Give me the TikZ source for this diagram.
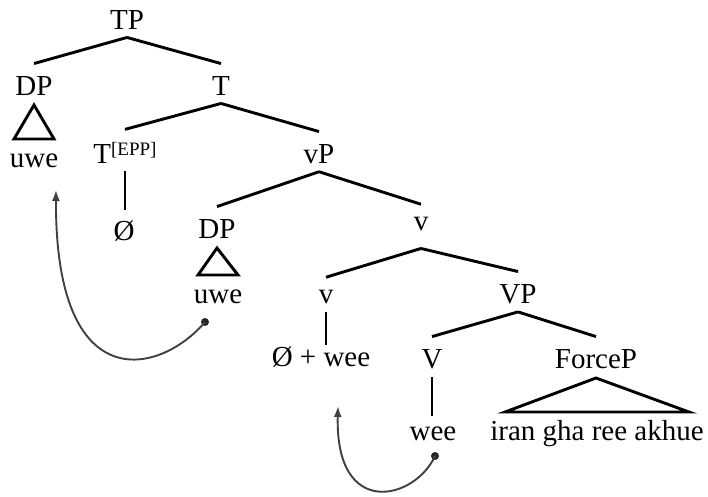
\documentclass[tikz,border=0pt]{standalone}
\usepackage{fontspec}
\setmainfont{Liberation Serif}
\usepackage{tikz}
\usetikzlibrary{calc,arrows.meta}
\newcommand{\branch}[2]{\draw ([yshift=-7pt]#1.south) -- ([yshift=11pt]#2.north);}
\newcommand{\stem}[3][9pt]{\draw ([yshift=-7pt]#2.south) -- ($(#2.south |- #3.north)+(0pt,#1)$);}
\newcommand{\roof}[3]{\draw ([yshift=-10pt]#1.base) -- ([xshift=-#3,yshift=28pt]#2.base)
  -- ([xshift=#3,yshift=28pt]#2.base) -- cycle;}

\begin{document}
\begin{tikzpicture}[x=1pt,y=-1pt,line width=2.9pt,
    lbl/.style={anchor=base,inner sep=0pt,font=\fontsize{29}{34}\selectfont},
    move/.style={black!75,line width=1.9pt,-{Latex[length=11pt,width=8pt]}}]
  \useasboundingbox (0,0) rectangle (708,496);

  \node[lbl] (TP) at (127,29) {TP};
  \node[lbl] (DPa) at (34,95) {DP};
  \node[lbl] (T) at (221,95) {T};
  \node[lbl] (uwea) at (34,167) {uwe};
  \node[lbl] (Tepp) at (125,163) {T\raisebox{8pt}{\fontsize{19}{19}\selectfont[EPP]}};
  \node[lbl] (nullT) at (124,240) {Ø};
  \node[lbl] (vP) at (319,163) {vP};
  \node[lbl] (DPb) at (217,238) {DP};
  \node[lbl] (uweb) at (218,303) {uwe};
  \node[lbl,text depth=10pt] (vbar) at (421,230) {v};
  \node[lbl] (vhead) at (326,303) {v};
  \node[lbl] (VP) at (518,303) {VP};
  \node[lbl] (vcomplex) at (321,366) {Ø + wee};
  \node[lbl] (V) at (432,368) {V};
  \node[lbl] (ForceP) at (596,368) {ForceP};
  \node[lbl] (wee) at (433,440) {wee};
  \node[lbl] (clause) at (597,440) {iran gha ree akhue};

  \branch{TP}{DPa}
  \branch{TP}{T}
  \branch{T}{Tepp}
  \branch{T}{vP}
  \branch{vP}{DPb}
  \branch{vP}{vbar}
  \branch{vbar}{vhead}
  \branch{vbar}{VP}
  \branch{VP}{V}
  \branch{VP}{ForceP}

  \stem{Tepp}{nullT}
  \stem[0pt]{vhead}{vcomplex}
  \stem{V}{wee}

  \roof{DPa}{uwea}{20pt}
  \roof{DPb}{uweb}{20pt}
  \roof{ForceP}{clause}{92pt}

  \coordinate (trace1) at ([xshift=-13pt,yshift=-19pt]uweb.base);
  \coordinate (land1) at ([xshift=22pt,yshift=-23pt]uwea.base);
  \coordinate (trace2) at ([xshift=2pt,yshift=-16pt]wee.base);
  \coordinate (land2) at ([xshift=17pt,yshift=-40pt]vcomplex.base);
  \fill[black!85] (trace1) circle (4pt);
  \fill[black!85] (trace2) circle (4pt);
  \draw[move] (trace1) .. controls (160,375) and (55,400) .. (land1);
  \draw[move] (trace2) .. controls (415,500) and (335,520) .. (land2);
\end{tikzpicture}
\end{document}
